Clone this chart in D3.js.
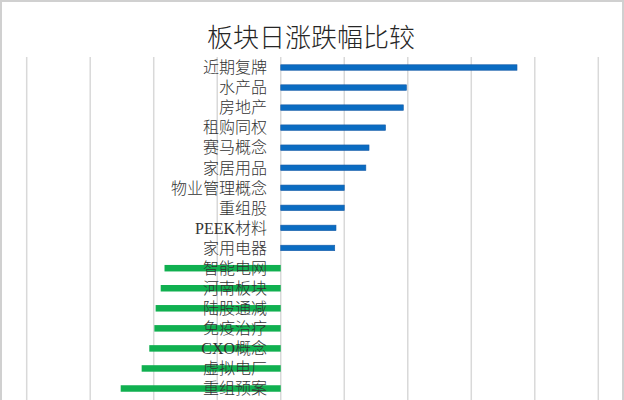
<!DOCTYPE html>
<html><head><meta charset="utf-8">
<script src="https://cdn.jsdelivr.net/npm/d3@7"></script>
<style>
html,body{margin:0;padding:0;background:#fff;}
svg{display:block;}
</style></head>
<body>
<svg id="chart" width="624" height="400"></svg>
<script>
const title = "板块日涨跌幅比较";
const categories = ["近期复牌","水产品","房地产","租购同权","赛马概念","家居用品","物业管理概念","重组股","PEEK材料","家用电器",
  "智能电网","河南板块","陆股通减","免疫治疗","CXO概念","虚拟电厂","重组预案"];
const values = [3.72,1.98,1.93,1.65,1.39,1.34,1.0,1.0,0.87,0.85,
  -1.83,-1.89,-1.97,-1.99,-2.07,-2.19,-2.52];
const xTicks = [-4,-3,-2,-1,0,1,2,3,4,5];

const svg = d3.select("#chart");
const W = 624, H = 400;

svg.append("rect").attr("x",1).attr("y",1).attr("width",W-2).attr("height",H+10)
  .attr("fill","#fff").attr("stroke","#d0d0d0").attr("stroke-width",2);

const x = d3.scaleLinear().domain([-4,5]).range([26.7,598.3]);
const y = d3.scalePoint().domain(categories).range([67.5, 67.5 + 20.05*(categories.length-1)]);

svg.append("text").attr("x",311).attr("y",47).attr("text-anchor","middle")
  .attr("font-family","'Noto Sans CJK SC', sans-serif").attr("font-size",26)
  .attr("font-weight",300)
  .attr("fill","#262626").text(title);

// gridlines
svg.append("g").selectAll("line").data(xTicks).join("line")
  .attr("x1",d=>x(d)).attr("x2",d=>x(d)).attr("y1",57).attr("y2",H)
  .attr("stroke","#d9d9d9").attr("stroke-width",1.5);

// bars
const bh = 5.5;
svg.append("g").selectAll("rect").data(categories).join("rect")
  .attr("x",(d,i)=>Math.min(x(0),x(values[i])))
  .attr("width",(d,i)=>Math.abs(x(values[i])-x(0)))
  .attr("y",(d,i)=>y(d)-bh/2 - (values[i]<0?0.3:0))
  .attr("height",(d,i)=>values[i]<0?6.5:bh)
  .attr("fill",(d,i)=>values[i]>=0?"#0a6cc2":"#10b050")
  .attr("stroke",(d,i)=>values[i]>=0?"#1a5ea8":"none")
  .attr("stroke-width",0.6);

// labels
svg.append("g").selectAll("text").data(categories).join("text")
  .attr("x",267).attr("y",d=>y(d)).attr("dy","0.36em")
  .attr("text-anchor","end")
  .attr("font-family","'Liberation Serif','Noto Sans CJK SC', serif")
  .attr("font-size",16).attr("font-weight",300).attr("fill","#333")
  .text(d=>d);
</script>
</body></html>
